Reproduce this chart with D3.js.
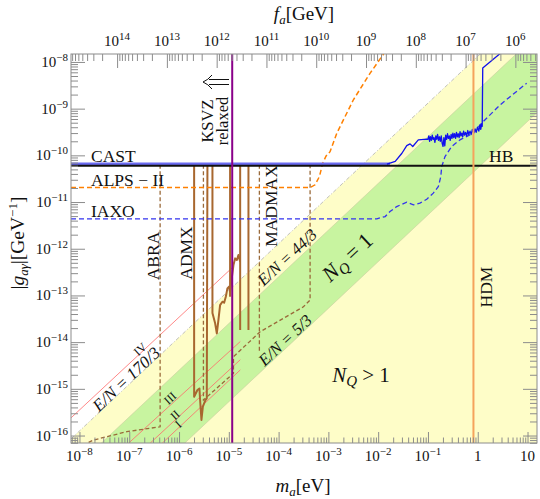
<!DOCTYPE html>
<html>
<head>
<meta charset="utf-8">
<script src="https://cdn.jsdelivr.net/npm/d3@7"></script>
<style>
  body { margin: 0; background: #fff; }
  svg { display: block; }
  text { font-family: 'Liberation Serif', 'DejaVu Serif', serif; fill: #111; }
</style>
</head>
<body>
<div id="chart"></div>
<script>
// axis ranges (m_a in eV, g in GeV^-1)
const M_MIN = 6.76e-9, M_MAX = 15.5;
const G_MIN = 6.92e-17, G_MAX = 1.48e-8;
const FA_CONV = 5.7e6; // f_a [GeV] = 5.7e6 / m_a [eV]

const mMajor = [1e-8, 1e-7, 1e-6, 1e-5, 1e-4, 1e-3, 1e-2, 1e-1, 1, 10];
const mLabels = ['−8', '−7', '−6', '−5', '−4', '−3', '−2', '−1', '1', '10'];
const gMajor = [1e-16, 1e-15, 1e-14, 1e-13, 1e-12, 1e-11, 1e-10, 1e-9, 1e-8];
const gLabels = ['−16', '−15', '−14', '−13', '−12', '−11', '−10', '−9', '−8'];
const faMajor = [1e14, 1e13, 1e12, 1e11, 1e10, 1e9, 1e8, 1e7, 1e6];
const faLabels = ['14', '13', '12', '11', '10', '9', '8', '7', '6'];

// model bands: straight lines read at their end points
const line170 = [[6.8e-9, 8.5e-17], [1.15, 1.52e-8]];
const line44 = [[2.6e-8, 6.5e-17], [6.0, 1.5e-8]];
const line5 = [[1.25e-6, 6.6e-17], [16, 8.5e-10]];

// E/N lines I..IV
const lineIV = [[6.8e-9, 2.4e-16], [1.24e-5, 4.16e-13]];
const lineIII = [[9.7e-8, 6.87e-17], [1.70e-5, 1.03e-14]];
const lineII = [[2.63e-7, 6.87e-17], [1.70e-5, 4.2e-15]];
const lineI = [[4.6e-7, 6.87e-17], [1.70e-5, 2.54e-15]];

// helioscopes / HB
const castFlat = [[M_MIN, 6.5e-11], [0.0173, 6.5e-11]];
const castHigh = [[0.015, 6.5e-11], [0.022, 7.4e-11], [0.030, 1.11e-10], [0.0375, 1.62e-10],
  [0.0437, 1.76e-10], [0.0495, 1.55e-10], [0.064, 2.15e-10], [0.095, 2.22e-10],
  [0.100, 2.2e-10], [0.104, 2.6e-10], [0.108, 2.0e-10], [0.112, 2.5e-10], [0.117, 2.1e-10],
  [0.122, 2.7e-10], [0.127, 2.2e-10], [0.132, 2.4e-10], [0.138, 1.9e-10], [0.144, 2.6e-10],
  [0.150, 2.2e-10], [0.156, 2.8e-10], [0.163, 2.1e-10], [0.170, 2.5e-10], [0.177, 2.0e-10],
  [0.185, 2.6e-10], [0.193, 1.8e-10], [0.201, 1.55e-10], [0.209, 2.4e-10], [0.218, 1.6e-10],
  [0.227, 2.7e-10], [0.237, 2.2e-10], [0.247, 2.9e-10], [0.257, 2.3e-10], [0.268, 2.6e-10],
  [0.280, 2.1e-10], [0.292, 2.8e-10], [0.304, 2.3e-10], [0.317, 3.0e-10], [0.330, 2.4e-10],
  [0.344, 2.9e-10], [0.359, 2.3e-10], [0.374, 3.1e-10], [0.390, 2.5e-10], [0.406, 2.9e-10],
  [0.423, 2.4e-10], [0.441, 3.2e-10], [0.460, 2.6e-10], [0.480, 3.0e-10], [0.500, 2.5e-10],
  [0.520, 3.3e-10], [0.545, 2.7e-10], [0.570, 3.1e-10], [0.600, 2.6e-10], [0.630, 3.4e-10],
  [0.660, 2.8e-10], [0.700, 3.3e-10], [0.740, 2.8e-10], [0.780, 3.6e-10], [0.830, 3.0e-10],
  [0.880, 3.7e-10], [0.930, 3.1e-10], [0.990, 4.0e-10], [1.05, 3.3e-10], [1.11, 4.5e-10],
  [1.15, 3.6e-10], [1.20, 4.8e-10], [1.23, 4.2e-10], [1.26, 7.4e-9], [3.0, 1.6e-8]];
const hbLine = [[M_MIN, 6.0e-11], [M_MAX, 6.0e-11]];
const alps = [[M_MIN, 2.05e-11], [4.3e-4, 2.05e-11], [5.4e-4, 2.34e-11], [6.6e-4, 3.5e-11],
  [7.7e-4, 6.8e-11], [9.0e-4, 9.7e-11], [1.08e-3, 1.2e-10], [1.48e-3, 3.0e-10],
  [3.18e-3, 1.55e-9], [6.9e-3, 5.75e-9], [0.0135, 1.6e-8]];
const iaxo = [[M_MIN, 4.37e-12], [9.4e-3, 4.37e-12], [0.0138, 4.89e-12], [0.0173, 6.26e-12],
  [0.0236, 8.0e-12], [0.0375, 9.96e-12], [0.051, 8.7e-12], [0.069, 9.5e-12], [0.0946, 1.15e-11],
  [0.128, 1.55e-11], [0.162, 2.15e-11], [0.181, 3.5e-11], [0.189, 5.75e-11], [0.22, 9.4e-11],
  [0.30, 1.55e-10], [0.44, 2.15e-10], [0.82, 3.0e-10], [1.2, 4.9e-10], [2.8, 1.2e-9], [9.6, 3.5e-9]];

const ksvzMass = 1.17e-5;
const hdmMass = 0.82;

// haloscopes: existing (solid) and projected (dashed)
const admx1 = [[2.01e-6, 6.3e-11], [2.01e-6, 6.78e-16], [2.34e-6, 9.42e-16], [2.57e-6, 1.02e-15],
  [2.65e-6, 5.75e-16], [2.82e-6, 2.15e-16], [3.01e-6, 4.14e-16], [3.19e-6, 4.9e-16],
  [3.39e-6, 5.75e-16], [3.61e-6, 6.27e-16], [3.72e-6, 6.3e-11]];
const admx2 = [[4.69e-6, 6.3e-11], [4.69e-6, 4.2e-14], [5.31e-6, 2.53e-14], [5.74e-6, 1.54e-14],
  [6.18e-6, 2.97e-14], [6.68e-6, 6.22e-14], [7.43e-6, 7.33e-14], [8.05e-6, 6.98e-14],
  [8.70e-6, 9.38e-14], [9.37e-6, 1.42e-13], [1.01e-5, 1.54e-13], [1.06e-5, 1.2e-13],
  [1.11e-5, 1.82e-13], [1.24e-5, 4.48e-13], [1.34e-5, 6.22e-13], [1.45e-5, 5.73e-13],
  [1.56e-5, 7.33e-13], [1.69e-5, 5.27e-13]];
const admx3 = [[1.06e-5, 6.3e-11], [1.06e-5, 9.38e-14]];
const notchA = [[1.69e-5, 6.3e-11], [1.69e-5, 1.82e-14]];
const notchB = [[2.48e-5, 6.3e-11], [2.48e-5, 1.82e-14]];
const abraProj = [[4.17e-7, 6.3e-11], [4.17e-7, 1.54e-16], [8.95e-8, 1.21e-16], [1.91e-8, 8.0e-17], [1.36e-8, 6.7e-17]];
const admxProj = [[3.09e-6, 6.3e-11], [3.09e-6, 5.75e-16], [1.24e-5, 2.15e-15], [1.24e-5, 4.87e-15],
  [4.25e-5, 1.67e-14], [3.15e-4, 5.73e-14], [4.29e-4, 7.97e-14], [4.29e-4, 6.3e-11]];
const madmaxEdge = [[4.11e-5, 6.3e-11], [4.11e-5, 5.85e-15]];

const W = 540, H = 499;
const box = { l: 71, t: 54, r: 537, b: 443 };

const svg = d3.select('#chart').append('svg').attr('width', W).attr('height', H);

const x = d3.scaleLog().domain([M_MIN, M_MAX]).range([box.l, box.r]);
const y = d3.scaleLog().domain([G_MIN, G_MAX]).range([box.b, box.t]);
const fa = d3.scaleLog().domain([FA_CONV / M_MIN, FA_CONV / M_MAX]).range([box.l, box.r]);

svg.append('clipPath').attr('id', 'plot')
  .append('rect').attr('x', box.l).attr('y', box.t)
  .attr('width', box.r - box.l).attr('height', box.b - box.t);

const plot = svg.append('g').attr('clip-path', 'url(#plot)');
const line = d3.line().x(d => x(d[0])).y(d => y(d[1]));

// bands
const yellowPoly = [[M_MIN, G_MIN], line170[0], line170[1], [M_MAX * 2, G_MAX * 2], [M_MAX * 2, G_MIN]];
const greenPoly = [line44[0], line44[1], [line5[1][0], line44[1][1]], line5[1], line5[0]];
plot.append('path').attr('d', line(yellowPoly) + 'Z').attr('fill', '#fefdc8');
plot.append('path').attr('d', line(greenPoly) + 'Z').attr('fill', '#c8f4a0');
[line44, line5].forEach(l => plot.append('path').attr('d', line(l))
  .attr('stroke', '#c9cca0').attr('stroke-width', 0.6).attr('fill', 'none'));
plot.append('path').attr('d', line(line170)).attr('fill', 'none')
  .attr('stroke', '#b0b0b0').attr('stroke-width', 0.8).attr('stroke-dasharray', '4,2,1,2');

// E/N lines
[lineI, lineII, lineIII, lineIV].forEach(l => plot.append('path').attr('d', line(l))
  .attr('fill', 'none').attr('stroke', '#ff6a6a').attr('stroke-width', 0.8));

// haloscopes
const brown = '#a8672f';
[admx1, admx2, admx3, notchA, notchB].forEach(c => plot.append('path').attr('d', line(c))
  .attr('fill', 'none').attr('stroke', brown).attr('stroke-width', 2).attr('stroke-linejoin', 'round'));
[abraProj, admxProj, madmaxEdge].forEach(c => plot.append('path').attr('d', line(c))
  .attr('fill', 'none').attr('stroke', '#9a6a3a').attr('stroke-width', 1.3).attr('stroke-dasharray', '4,2.5'));

// helioscopes
plot.append('path').attr('d', line(iaxo)).attr('fill', 'none')
  .attr('stroke', '#3333ee').attr('stroke-width', 1.3).attr('stroke-dasharray', '5,3');
plot.append('path').attr('d', line(alps)).attr('fill', 'none')
  .attr('stroke', '#ff8000').attr('stroke-width', 1.5).attr('stroke-dasharray', '5,3');
plot.append('path').attr('d', line(castFlat)).attr('fill', 'none')
  .attr('stroke', '#6b6bf2').attr('stroke-width', 3);
plot.append('path').attr('d', line(castHigh)).attr('fill', 'none')
  .attr('stroke', '#1010ee').attr('stroke-width', 1.3).attr('stroke-linejoin', 'round');
plot.append('path').attr('d', line(hbLine)).attr('fill', 'none')
  .attr('stroke', '#111').attr('stroke-width', 2);

// vertical bounds
plot.append('line').attr('x1', x(ksvzMass)).attr('x2', x(ksvzMass)).attr('y1', box.t).attr('y2', box.b)
  .attr('stroke', '#8a008a').attr('stroke-width', 2);
plot.append('line').attr('x1', x(hdmMass)).attr('x2', x(hdmMass)).attr('y1', box.t).attr('y2', box.b)
  .attr('stroke', '#f5a35c').attr('stroke-width', 2);

// ticks
function logTicks(lo, hi) {
  const major = [], minor = [];
  for (let e = Math.floor(Math.log10(lo)); e <= Math.ceil(Math.log10(hi)); e++) {
    for (let k = 1; k < 10; k++) {
      const v = k * Math.pow(10, e);
      if (v >= lo && v <= hi) (k === 1 ? major : minor).push(v);
    }
  }
  return { major, minor };
}
const tm = logTicks(M_MIN, M_MAX), tg = logTicks(G_MIN, G_MAX), tf = logTicks(FA_CONV / M_MAX, FA_CONV / M_MIN);
const tickColor = '#8c8c8c';
function drawTicks(axis, pos, vals, size) {
  const g = svg.append('g').attr('transform', pos)
    .call(axis.tickValues(vals).tickSize(size).tickFormat(''));
  g.select('.domain').remove();
  g.selectAll('.tick line').attr('stroke', tickColor);
}
drawTicks(d3.axisBottom(x), `translate(0,${box.b})`, tm.major, -11);
drawTicks(d3.axisBottom(x), `translate(0,${box.b})`, tm.minor, -5.5);
drawTicks(d3.axisTop(fa), `translate(0,${box.t})`, tf.major, -14);
drawTicks(d3.axisTop(fa), `translate(0,${box.t})`, tf.minor, -7);
drawTicks(d3.axisLeft(y), `translate(${box.l},0)`, tg.major, -14);
drawTicks(d3.axisLeft(y), `translate(${box.l},0)`, tg.minor, -7);
drawTicks(d3.axisRight(y), `translate(${box.r},0)`, tg.major, -14);
drawTicks(d3.axisRight(y), `translate(${box.r},0)`, tg.minor, -7);

svg.append('rect').attr('x', box.l).attr('y', box.t)
  .attr('width', box.r - box.l).attr('height', box.b - box.t)
  .attr('fill', 'none').attr('stroke', tickColor).attr('stroke-width', 1);

// tick labels
function powText(t, exp, plain) {
  if (plain) { t.text(exp); return; }
  t.append('tspan').text('10');
  t.append('tspan').attr('dy', -6).attr('font-size', 11).text(exp);
}
mMajor.forEach((v, i) => {
  const t = svg.append('text').attr('x', x(v)).attr('y', 461)
    .attr('text-anchor', 'middle').attr('font-size', 15);
  powText(t, mLabels[i], v >= 1);
});
gMajor.forEach((v, i) => {
  const t = svg.append('text').attr('x', 68).attr('y', y(v) + 5)
    .attr('text-anchor', 'end').attr('font-size', 15);
  powText(t, gLabels[i], false);
});
faMajor.forEach((v, i) => {
  const t = svg.append('text').attr('x', fa(v)).attr('y', 46)
    .attr('text-anchor', 'middle').attr('font-size', 15);
  powText(t, faLabels[i], false);
});

// axis titles
const xt = svg.append('text').attr('x', 303).attr('y', 492).attr('text-anchor', 'middle').attr('font-size', 19);
xt.append('tspan').attr('font-style', 'italic').text('m');
xt.append('tspan').attr('font-style', 'italic').attr('font-size', 13).attr('dy', 4).text('a');
xt.append('tspan').attr('dy', -4).text('[eV]');
const ft = svg.append('text').attr('x', 304).attr('y', 20).attr('text-anchor', 'middle').attr('font-size', 19);
ft.append('tspan').attr('font-style', 'italic').text('f');
ft.append('tspan').attr('font-style', 'italic').attr('font-size', 13).attr('dy', 4).text('a');
ft.append('tspan').attr('dy', -4).text('[GeV]');
const yt = svg.append('text').attr('transform', 'translate(24,243) rotate(-90)')
  .attr('text-anchor', 'middle').attr('font-size', 19.5);
yt.append('tspan').text('|');
yt.append('tspan').attr('font-style', 'italic').text('g');
yt.append('tspan').attr('font-style', 'italic').attr('font-size', 13).attr('dy', 4).text('aγ');
yt.append('tspan').attr('dy', -4).text('|[GeV');
yt.append('tspan').attr('font-size', 13).attr('dy', -7).text('−1');
yt.append('tspan').attr('dy', 7).text(']');

// annotations
function label(txt, px, py, size, rot, opts = {}) {
  const t = svg.append('text')
    .attr('transform', `translate(${px},${py}) rotate(${rot})`)
    .attr('text-anchor', opts.anchor || 'middle')
    .attr('dy', opts.dy !== undefined ? opts.dy : '0.35em')
    .attr('font-size', size);
  if (opts.italic) t.attr('font-style', 'italic');
  t.text(txt);
  return t;
}
label('CAST', 91, 162, 17.5, 0, { anchor: 'start', dy: 0 });
label('ALPS − II', 91, 185.5, 17.5, 0, { anchor: 'start', dy: 0 });
label('IAXO', 91, 217, 17.5, 0, { anchor: 'start', dy: 0 });
label('HB', 489, 162, 17.5, 0, { anchor: 'start', dy: 0 });
label('KSVZ', 207, 121, 16.5, -90);
label('relaxed', 222, 121, 16.5, -90);
// thin double arrow pointing left (towards the relaxed region)
svg.append('path')
  .attr('d', 'M209,79.5 H229 M209,84.5 H229 M212,75 Q208,80 203,82 Q208,84 212,89')
  .attr('fill', 'none').attr('stroke', '#111').attr('stroke-width', 1);
label('ABRA', 153, 256, 17.5, -90);
label('ADMX', 186, 253, 17.5, -90);
label('MADMAX', 271, 206, 17.5, -90);
label('HDM', 486, 287, 17.5, -90);
label('E/N = 44/3', 287, 257, 16.5, -43, { italic: true });
label('E/N = 5/3', 285, 340, 16.5, -43, { italic: true });
label('E/N = 170/3', 126, 379, 17, -43, { italic: true });
label('IV', 140, 349, 12, -43);
label('III', 170, 398, 12, -43);
label('II', 175, 415, 12, -43);
label('I', 178, 424, 12, -43);

const nq1 = svg.append('text').attr('transform', 'translate(347,257) rotate(-43)')
  .attr('text-anchor', 'middle').attr('dy', '0.35em').attr('font-size', 22);
nq1.append('tspan').attr('font-style', 'italic').text('N');
nq1.append('tspan').attr('font-style', 'italic').attr('font-size', 15).attr('dy', 4).text('Q');
nq1.append('tspan').attr('dy', -4).text(' = 1');
const nq2 = svg.append('text').attr('x', 361).attr('y', 382)
  .attr('text-anchor', 'middle').attr('font-size', 21);
nq2.append('tspan').attr('font-style', 'italic').text('N');
nq2.append('tspan').attr('font-style', 'italic').attr('font-size', 15).attr('dy', 4).text('Q');
nq2.append('tspan').attr('dy', -4).text(' > 1');
</script>
</body>
</html>
